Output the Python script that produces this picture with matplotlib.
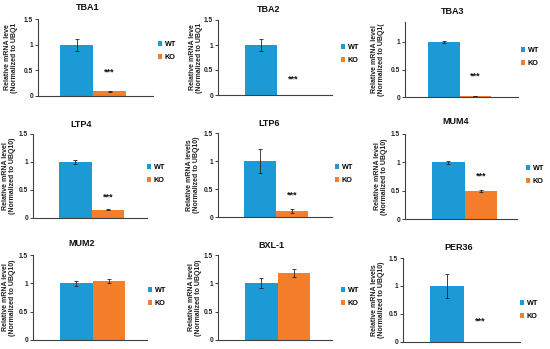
import matplotlib
matplotlib.use("Agg")
import matplotlib.pyplot as plt
from matplotlib.patches import Patch

plt.rcParams['font.family'] = ['Liberation Sans', 'DejaVu Sans']
plt.rcParams['font.weight'] = 'bold'

# ---- data ----
genes = ["TBA1", "TBA2", "TBA3", "LTP4", "LTP6", "MUM4", "MUM2", "BXL-1", "PER36"]
wt_vals = [1.0, 1.0, 1.0, 1.0, 1.0, 1.0, 1.0, 1.0, 1.0]
wt_errs = [0.12, 0.11, 0.01, 0.04, 0.22, 0.03, 0.05, 0.09, 0.22]
ko_vals = [0.09, 0.0, 0.01, 0.15, 0.11, 0.49, 1.04, 1.19, 0.0]
ko_errs = [0.01, 0.0, 0.0, 0.01, 0.03, 0.02, 0.04, 0.07, 0.0]
star_y = [0.46, 0.31, 0.38, 0.38, 0.40, 0.76, None, None, 0.37]
ylabels = [
    "Relative mRNA leve\n(Normalized to UBQ1",
    "Relative mRNA leve\n(Normalized to UBQ1",
    "Relative mRNA level\n(Normalized to UBQ1(",
    "Relative mRNA level\n(Normalized to UBQ10)",
    "Relative mRNA levels\n(Normalized to UBQ10)",
    "Relative mRNA level\n(Normalized to UBQ10)",
    "Relative mRNA level\n(Normalized to UBQ10)",
    "Relative mRNA level\n(Normalized to UBQ10)",
    "Relative mRNA levels\n(Normalized to UBQ10)",
]
series = ["WT", "KO"]
yticks = [0, 0.5, 1, 1.5]
ytick_labels = ["0", "0.5", "1", "1.5"]

# ---- layout (pixels) ----
W, H = 550, 349
# left, right, y of 0, y of 1.5, axis top y, bar start x, bar width
layout = [
    (38, 153, 96, 19, 19, 60, 33),
    (218, 332, 95, 20, 20, 245, 32),
    (405, 518, 97, 14.5, 22, 428, 31.5),
    (33, 147, 218, 134, 134, 59, 32.5),
    (218, 332, 217, 133, 133, 244, 32),
    (405, 517, 219, 134, 134, 432, 32.5),
    (33, 147, 340, 255, 255, 60, 32.5),
    (218, 332, 340, 255, 255, 245, 32.5),
    (403, 520, 342, 258, 258, 430, 33.5),
]
title_pos = [(88, 7), (269, 10), (453, 12), (81, 125), (269, 124), (456, 122),
             (82, 244), (271, 246), (459, 248)]
# right edge of the rotated y label block
ylabel_x = [18, 203, 385, 16, 200, 388, 16, 202, 385]
legend_pos = [(158, 51), (341, 54), (521, 57), (147, 174), (335, 174), (526, 175),
              (148, 297), (341, 297), (520, 310)]

blue = "#1C9AD6"
orange = "#F47E2A"
spine_c = "#404040"

fig = plt.figure(figsize=(W / 100, H / 100), dpi=100)
fig.patch.set_facecolor("white")

for i, g in enumerate(genes):
    left, right, y0, y15, ytop, bstart, bw = layout[i]
    unit = (y0 - y15) / 1.5
    ylim_top = (y0 - ytop) / unit
    ax = fig.add_axes([left / W, 1 - y0 / H, (right - left) / W, (y0 - ytop) / H])
    xl = -0.5 - (bstart - left) / bw
    xr = 1.5 + (right - (bstart + 2 * bw)) / bw
    ax.bar([0], [wt_vals[i]], width=1.0, color=blue, yerr=[wt_errs[i]],
           error_kw=dict(ecolor="#222222", elinewidth=0.6, capsize=1.2, capthick=0.6))
    ax.bar([1], [ko_vals[i]], width=1.0, color=orange, yerr=[ko_errs[i]],
           error_kw=dict(ecolor="#222222", elinewidth=0.6, capsize=1.2, capthick=0.6))
    ax.set_xlim(xl, xr)
    ax.set_ylim(0, ylim_top)
    ax.set_yticks([t for t in yticks if t <= ylim_top + 1e-9])
    ax.set_yticklabels([l for t, l in zip(yticks, ytick_labels) if t <= ylim_top + 1e-9])
    ax.set_xticks([])
    for s in ["top", "right"]:
        ax.spines[s].set_visible(False)
    for s in ["left", "bottom"]:
        ax.spines[s].set_color(spine_c)
        ax.spines[s].set_linewidth(0.8)
    ax.tick_params(axis="y", labelsize=4.8, length=2, width=0.6, pad=1.5, colors="#222222")
    ax.set_ylabel(ylabels[i], fontsize=5.0, fontweight="bold", linespacing=1.05, color="#222222")
    ax.yaxis.set_label_coords((ylabel_x[i] - left) / (right - left), 0.5)
    if star_y[i] is not None:
        ax.text(1, star_y[i], "***", ha="center", va="center", fontsize=6.5,
                fontweight="bold", color="#111111")
    fig.text(title_pos[i][0] / W, 1 - title_pos[i][1] / H, g, ha="center", va="center",
             fontsize=6.5, fontweight="bold", color="#111111")
    handles = [Patch(facecolor=blue), Patch(facecolor=orange)]
    ax.legend(handles, series, loc="center left",
              bbox_to_anchor=(legend_pos[i][0] / W, 1 - legend_pos[i][1] / H),
              bbox_transform=fig.transFigure, frameon=False, borderpad=0,
              handlelength=0.6, handleheight=0.6, handletextpad=0.3,
              labelspacing=0.8, prop=dict(size=5.2, weight="bold"), borderaxespad=0)

fig.savefig("out.png", dpi=100, facecolor="white")
